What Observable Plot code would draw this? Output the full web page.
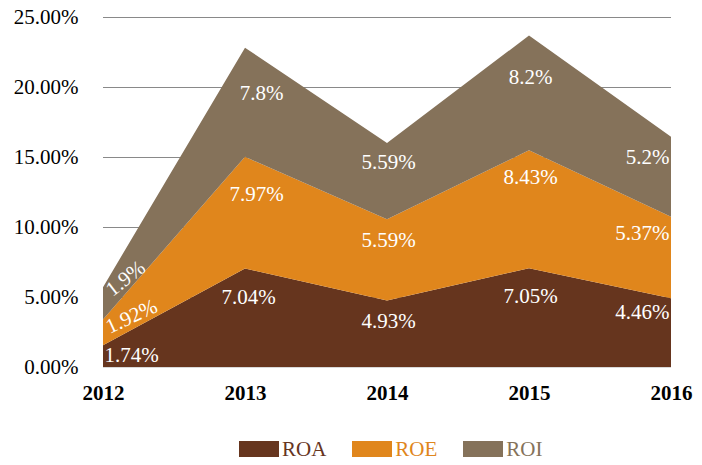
<!DOCTYPE html>
<html>
<head>
<meta charset="utf-8">
<script src="https://cdn.jsdelivr.net/npm/d3@7"></script>
<script src="https://cdn.jsdelivr.net/npm/@observablehq/plot@0.6"></script>
<style>
  body { margin: 0; background: #fff; font-family: "Liberation Serif", "Times New Roman", serif; }
  #wrap { position: relative; width: 702px; height: 465px; }
  #legend { position: absolute; left: 239px; top: 437px; height: 24px; display: flex; align-items: center; font-size: 21px; }
  .item { display: flex; align-items: center; margin-right: 26px; }
  .sw { width: 40px; height: 16px; margin-right: 3px; }
</style>
</head>
<body>
<div id="wrap"><div id="chart"></div><div id="legend"></div></div>
<script>
const years = [2012, 2013, 2014, 2015, 2016];
const seriesNames = ["ROA", "ROE", "ROI"];
// drawn (area) values
const roa = [1.55, 7.04, 4.75, 7.05, 4.91];
const roe = [1.85, 7.97, 5.8, 8.43, 5.83];
const roi = [2.3, 7.8, 5.45, 8.2, 5.71];
// data label texts as printed on the chart
const roaLabels = ["1.74%", "7.04%", "4.93%", "7.05%", "4.46%"];
const roeLabels = ["1.92%", "7.97%", "5.59%", "8.43%", "5.37%"];
const roiLabels = ["1.9%", "7.8%", "5.59%", "8.2%", "5.2%"];
const yTicks = [0, 5, 10, 15, 20, 25];
const colors = ["#66351e", "#e0861c", "#85725a"];

const seriesValues = [roa, roe, roi];
const seriesLabels = [roaLabels, roeLabels, roiLabels];

const data = [];
seriesNames.forEach((s, i) => years.forEach((y, j) => data.push({series: s, year: y, value: seriesValues[i][j]})));

// label placement: fraction of the way up each band
const frac = {
  ROA: {2012: 0.55, 2013: 0.71, 2014: 0.69, 2015: 0.72, 2016: 0.80},
  ROE: {2012: 1.13, 2013: 0.667, 2014: 0.745, 2015: 0.773, 2016: 0.80},
  ROI: {2012: 1.29, 2013: 0.585, 2014: 0.75, 2015: 0.64, 2016: 0.75}
};
const labels = [];
years.forEach((y, j) => {
  let base = 0;
  seriesNames.forEach((s, i) => {
    const v = seriesValues[i][j];
    labels.push({series: s, year: y, text: seriesLabels[i][j], y: base + frac[s][y] * v});
    base += v;
  });
});
const pick = (yr, s) => labels.filter(d => d.year === yr && (s == null || d.series === s));
const midOther = labels.filter(d => d.year === 2014 || d.year === 2015);

const txt = {x: "year", y: "y", text: "text", fill: "white", fontSize: 21, fontFamily: "Liberation Serif"};

const chart = Plot.plot({
  width: 702,
  height: 425,
  marginLeft: 103,
  marginRight: 31,
  marginTop: 17,
  marginBottom: 58,
  style: {fontFamily: "Liberation Serif", fontSize: "21px", color: "#000", background: "white"},
  x: {domain: [2012, 2016], label: null},
  y: {domain: [0, 25], label: null},
  color: {domain: seriesNames, range: colors},
  marks: [
    Plot.ruleY(yTicks.filter(d => d > 0), {stroke: "#898989", strokeWidth: 1}),
    Plot.areaY(data, {x: "year", y: "value", fill: "series", z: "series", order: seriesNames}),
    Plot.ruleY([0], {stroke: "#d9d9d9", strokeWidth: 1}),
    Plot.axisY({ticks: yTicks, tickFormat: d => d.toFixed(2) + "%", tickSize: 0, tickPadding: 25, fontSize: 21, fill: "#000", label: null}),
    Plot.axisX({ticks: years, tickFormat: d => String(d), tickSize: 0, tickPadding: 18, fontSize: 21, fontWeight: "bold", fill: "#000", label: null}),
    Plot.text(pick(2013, "ROA"), {...txt, dx: 3}),
    Plot.text(pick(2013, "ROE"), {...txt, dx: 11}),
    Plot.text(pick(2013, "ROI"), {...txt, dx: 16}),
    Plot.text(midOther, {...txt, dx: 1}),
    Plot.text(pick(2012, "ROA"), {...txt, textAnchor: "start", dx: 1}),
    Plot.text(pick(2012, "ROE"), {...txt, dx: 28, rotate: -25}),
    Plot.text(pick(2012, "ROI"), {...txt, dx: 22, rotate: -38}),
    Plot.text(pick(2016), {...txt, textAnchor: "end", dx: -2})
  ]
});
document.getElementById("chart").appendChild(chart);

const legend = document.getElementById("legend");
seriesNames.forEach((s, i) => {
  const it = document.createElement("div");
  it.className = "item";
  it.innerHTML = `<div class="sw" style="background:${colors[i]}"></div><span style="color:${colors[i]}">${s}</span>`;
  legend.appendChild(it);
});
</script>
</body>
</html>
